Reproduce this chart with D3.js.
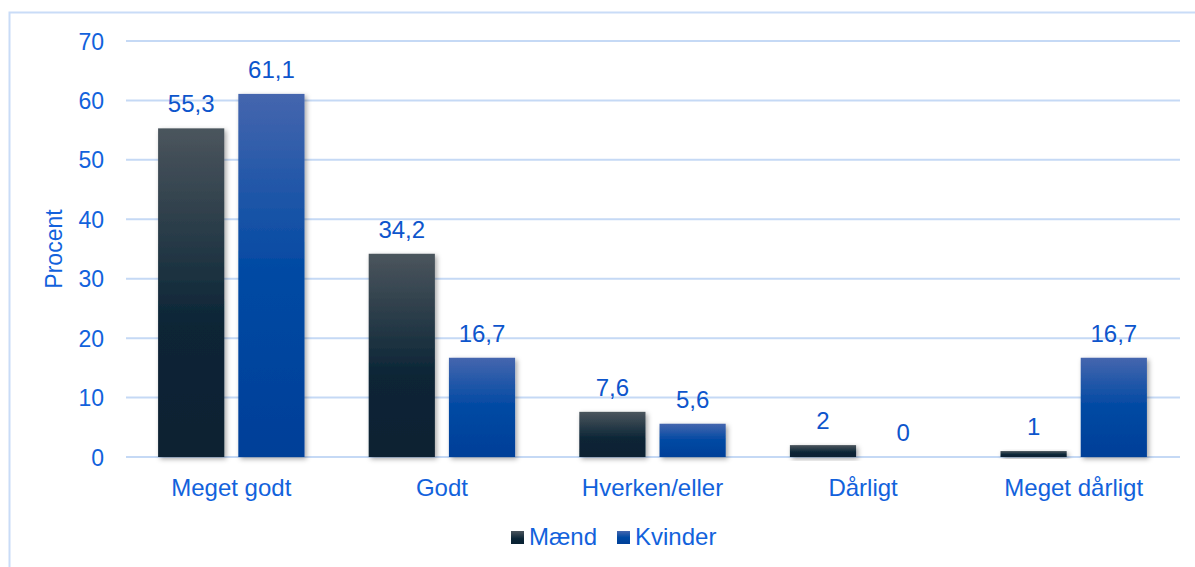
<!DOCTYPE html>
<html><head><meta charset="utf-8">
<script src="https://cdn.jsdelivr.net/npm/d3@7"></script>
<style>body{margin:0;background:#fff}svg{display:block;font-family:"Liberation Sans",Arial,sans-serif}</style>
</head><body><svg id="c" width="1195" height="567"></svg>
<script>
const categories = ["Meget godt","Godt","Hverken/eller","Dårligt","Meget dårligt"];
const seriesNames = ["Mænd","Kvinder"];
const maend = [55.3,34.2,7.6,2,1];
const kvinder = [61.1,16.7,5.6,0,16.7];
const yTicks = [0,10,20,30,40,50,60,70];
const labelText = v => String(v).replace(".",",");

const svg = d3.select("#c");
const W=1195,H=567;
const m = {left:126,right:1179,top:41,bottom:457};
const textColor = "#1262dc";
const valueColor = "#0d55cc";
const FS = 24;

const defs = svg.append("defs");
const g1 = defs.append("linearGradient").attr("id","gM").attr("x1",0).attr("y1",0).attr("x2",0).attr("y2",1);
g1.append("stop").attr("offset","0%").attr("stop-color","#4b555d");
g1.append("stop").attr("offset","60%").attr("stop-color","#0b2536");
g1.append("stop").attr("offset","100%").attr("stop-color","#082132");
const g2 = defs.append("linearGradient").attr("id","gK").attr("x1",0).attr("y1",0).attr("x2",0).attr("y2",1);
g2.append("stop").attr("offset","0%").attr("stop-color","#4566ae");
g2.append("stop").attr("offset","50%").attr("stop-color","#0049a3");
g2.append("stop").attr("offset","100%").attr("stop-color","#003f98");
const f = defs.append("filter").attr("id","sh").attr("x","-20%").attr("y","-20%").attr("width","150%").attr("height","150%");
f.append("feDropShadow").attr("dx",2).attr("dy",2).attr("stdDeviation",2.5).attr("flood-color","#000").attr("flood-opacity",0.35);

// border
svg.append("path").attr("d",`M9.5,${H} L9.5,12.5 L${W},12.5`).attr("fill","none").attr("stroke","#c9dcf7").attr("stroke-width",2);

const y = d3.scaleLinear().domain([0,70]).range([m.bottom,m.top]);
const x0 = d3.scaleBand().domain(categories).range([m.left,m.right]).paddingInner(0.3048).paddingOuter(0.1524);
const x1 = d3.scaleBand().domain(seriesNames).range([0,x0.bandwidth()]).paddingInner(0.175);

// grid
svg.append("g").selectAll("line").data(yTicks).join("line")
  .attr("x1",m.left).attr("x2",1180).attr("y1",d=>y(d)).attr("y2",d=>y(d))
  .attr("stroke","#c5d9f5").attr("stroke-width",2);

// y axis labels
const yAxis = d3.axisLeft(y).tickValues(yTicks).tickSize(0).tickPadding(0);
const ya = svg.append("g").attr("transform","translate(104,0)").call(yAxis);
ya.select(".domain").remove();
ya.selectAll("text").attr("fill",textColor).attr("font-size",23).attr("font-family","Liberation Sans, Arial, sans-serif").attr("dy","0.35em");

svg.append("text").attr("transform",`translate(62,${(m.top+m.bottom)/2}) rotate(-90)`)
  .attr("text-anchor","middle").attr("fill",textColor).attr("font-size",23).text("Procent");

const data = [maend,kvinder];
const fills = ["url(#gM)","url(#gK)"];
seriesNames.forEach((s,si)=>{
  const gs = svg.append("g");
  gs.selectAll("rect").data(categories).join("rect")
    .attr("x",c=>x0(c)+x1(s)).attr("width",x1.bandwidth())
    .attr("y",(c,i)=>y(data[si][i])).attr("height",(c,i)=>y(0)-y(data[si][i]))
    .attr("fill",fills[si]).attr("filter",(c,i)=>data[si][i]>0?"url(#sh)":null);
  gs.selectAll("text").data(categories).join("text")
    .attr("x",c=>x0(c)+x1(s)+x1.bandwidth()/2)
    .attr("y",(c,i)=>y(data[si][i])-16)
    .attr("text-anchor","middle").attr("fill",valueColor).attr("font-size",FS)
    .text((c,i)=>labelText(data[si][i]));
});

// x axis labels
const xa = svg.append("g").attr("transform",`translate(0,${m.bottom})`).call(d3.axisBottom(x0).tickSize(0).tickPadding(0));
xa.select(".domain").remove();
xa.selectAll("text").attr("fill",textColor).attr("font-size",FS).attr("font-family","Liberation Sans, Arial, sans-serif").attr("y",39).attr("dy",0);

// legend
const leg = [{n:"Mænd",f:"url(#gM)",x:511},{n:"Kvinder",f:"url(#gK)",x:617}];
const lg = svg.append("g");
leg.forEach(l=>{
  lg.append("rect").attr("x",l.x).attr("y",531).attr("width",13).attr("height",13).attr("fill",l.f);
  lg.append("text").attr("x",l.x+18).attr("y",545).attr("fill",textColor).attr("font-size",FS).text(l.n);
});
</script></body></html>
